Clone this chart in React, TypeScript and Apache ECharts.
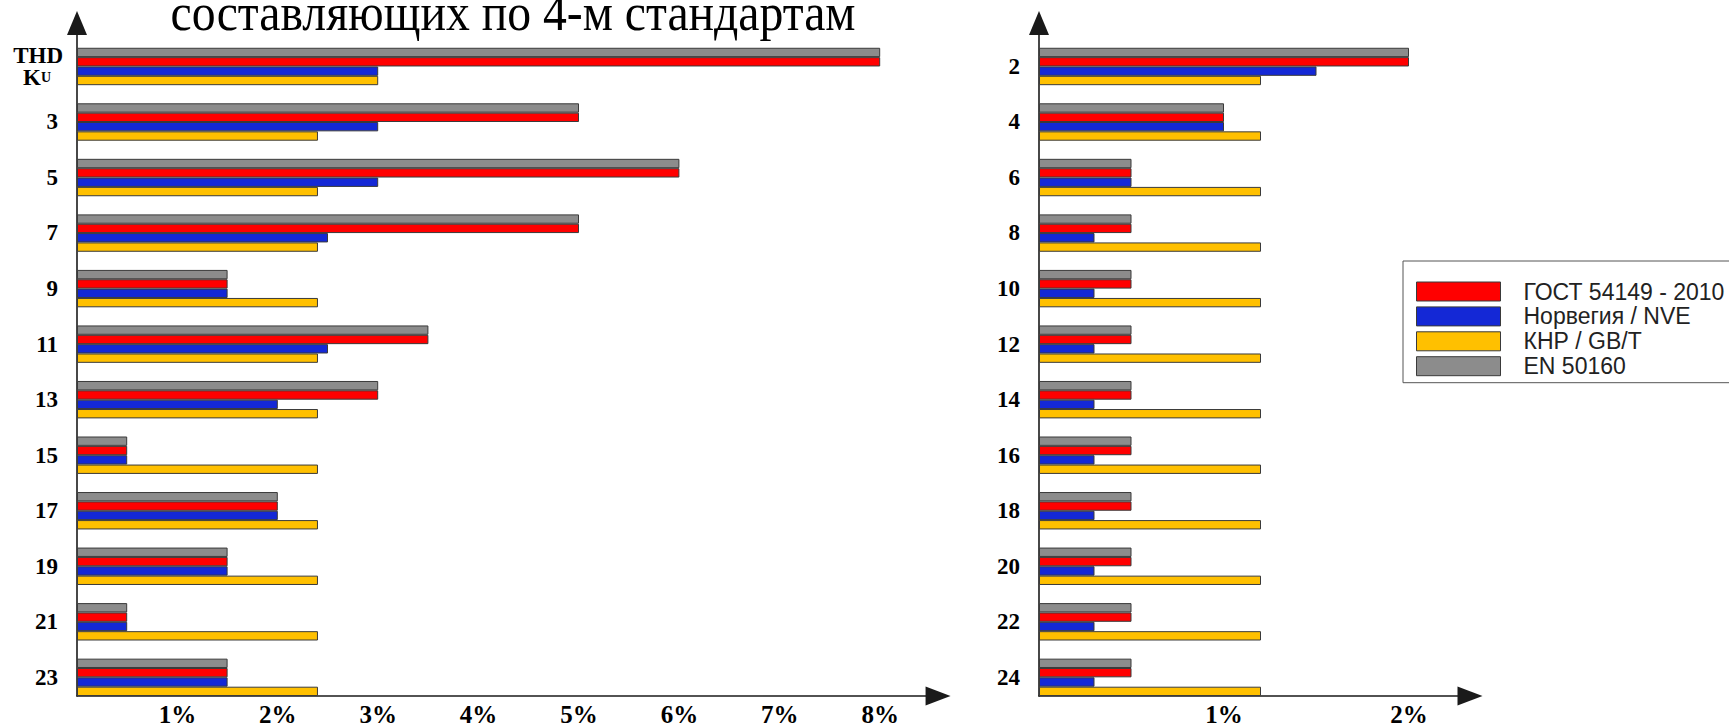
import React, { useEffect, useRef } from 'react';
import * as echarts from 'echarts';

// Harmonic orders, listed top to bottom as they appear on each panel
const oddOrders = ['THD', '3', '5', '7', '9', '11', '13', '15', '17', '19', '21', '23'];
const evenOrders = ['2', '4', '6', '8', '10', '12', '14', '16', '18', '20', '22', '24'];

const seriesNames = ['ГОСТ 54149 - 2010', 'Норвегия / NVE', 'КНР / GB/T', 'EN 50160'];

// Limits for odd harmonics and THD, %
const oddGost = [8, 5, 6, 5, 1.5, 3.5, 3, 0.5, 2, 1.5, 0.5, 1.5];
const oddNve = [3, 3, 3, 2.5, 1.5, 2.5, 2, 0.5, 2, 1.5, 0.5, 1.5];
const oddGbt = [3, 2.4, 2.4, 2.4, 2.4, 2.4, 2.4, 2.4, 2.4, 2.4, 2.4, 2.4];
const oddEn = [8, 5, 6, 5, 1.5, 3.5, 3, 0.5, 2, 1.5, 0.5, 1.5];

// Limits for even harmonics, %
const evenGost = [2, 1, 0.5, 0.5, 0.5, 0.5, 0.5, 0.5, 0.5, 0.5, 0.5, 0.5];
const evenNve = [1.5, 1, 0.5, 0.3, 0.3, 0.3, 0.3, 0.3, 0.3, 0.3, 0.3, 0.3];
const evenGbt = [1.2, 1.2, 1.2, 1.2, 1.2, 1.2, 1.2, 1.2, 1.2, 1.2, 1.2, 1.2];
const evenEn = [2, 1, 0.5, 0.5, 0.5, 0.5, 0.5, 0.5, 0.5, 0.5, 0.5, 0.5];

const titleText = 'составляющих по 4-м стандартам';

const COLORS = {
  gost: '#ff0000',
  nve: '#1428d6',
  gbt: '#ffc000',
  en: '#8c8c8c',
};

const AXIS_COLOR = '#1a1a1a';
const SERIF = '"Liberation Serif", "Times New Roman", serif';
const SANS = '"Liberation Sans", Arial, sans-serif';

const GRID_TOP = 29.6;
const GRID_HEIGHT = 667.4;
const BAND = GRID_HEIGHT / 12;
const BAR = 9.35;
const SPACER = BAND - 4 * BAR;

const rev = <T,>(a: T[]) => [...a].reverse();

function bar(name: string, data: number[], color: string, gi: number) {
  return {
    type: 'bar',
    name,
    data: rev(data),
    xAxisIndex: gi,
    yAxisIndex: gi,
    barWidth: BAR,
    barGap: '0%',
    silent: true,
    itemStyle: { color, borderColor: '#3a3a3a', borderWidth: 1 },
  };
}

// Empty column that keeps the free space of each band above its bar group
function spacer(gi: number) {
  return {
    type: 'bar',
    name: 'gap',
    data: [],
    xAxisIndex: gi,
    yAxisIndex: gi,
    barWidth: SPACER,
    barGap: '0%',
    silent: true,
    itemStyle: { color: 'rgba(0,0,0,0)', borderWidth: 0 },
  };
}

function xAxis(gi: number, max: number, arrowOffset: number) {
  return {
    type: 'value',
    gridIndex: gi,
    min: 0,
    max,
    interval: 1,
    splitLine: { show: false },
    axisTick: { show: false },
    axisLine: {
      show: true,
      symbol: ['none', 'triangle'],
      symbolSize: [19, 25],
      symbolOffset: [0, arrowOffset],
      lineStyle: { color: AXIS_COLOR, width: 1.6 },
    },
    axisLabel: {
      margin: 6,
      fontFamily: SERIF,
      fontWeight: 'bold',
      fontSize: 25,
      color: '#000',
      showMinLabel: false,
      showMaxLabel: false,
      formatter: (v: number) => (v > 0 && Number.isInteger(v) ? v + '%' : ''),
    },
  };
}

const labelFont = { fontFamily: SERIF, fontWeight: 'bold', color: '#000' };

function yAxis(gi: number, cats: string[]) {
  return {
    type: 'category',
    gridIndex: gi,
    data: rev(cats),
    axisTick: { show: false },
    axisLine: {
      show: true,
      symbol: ['none', 'triangle'],
      symbolSize: [20, 24],
      symbolOffset: [0, 6.6],
      lineStyle: { color: AXIS_COLOR, width: 1.6 },
    },
    axisLabel: {
      margin: 14,
      padding: [18, 0, 0, 0],
      ...labelFont,
      fontSize: 23,
      formatter: (v: string) => (v === 'THD' ? '{thd|THD}\n{k|K}{u|U}' : `{d|${v}}`),
      rich: {
        d: { ...labelFont, fontSize: 23, padding: [0, 5, 0, 0] },
        thd: { ...labelFont, fontSize: 23, lineHeight: 22 },
        k: { ...labelFont, fontSize: 23, lineHeight: 22 },
        u: { ...labelFont, fontSize: 14, lineHeight: 22, padding: [0, 12, 0, 0] },
      },
    },
  };
}

export default function App() {
  const ref = useRef<HTMLDivElement>(null);

  useEffect(() => {
    if (!ref.current) return;
    const chart = echarts.init(ref.current, undefined, { renderer: 'svg' });

    const option = {
      animation: false,
      backgroundColor: '#ffffff',
      grid: [
        { left: 77, top: GRID_TOP, width: 8.6 * 100.4, height: GRID_HEIGHT },
        { left: 1039, top: GRID_TOP, width: 2.3 * 185, height: GRID_HEIGHT },
      ],
      xAxis: [xAxis(0, 8.6, -2.4), xAxis(1, 2.3, 5.5)],
      yAxis: [yAxis(0, oddOrders), yAxis(1, evenOrders)],
      legend: {
        data: seriesNames,
        orient: 'vertical',
        left: 1403,
        top: 261,
        itemWidth: 84,
        itemHeight: 19,
        itemGap: 1.9,
        icon: 'rect',
        selectedMode: false,
        padding: [19, 60, 5, 13],
        borderColor: '#555',
        borderWidth: 1,
        itemStyle: { borderColor: '#3a3a3a', borderWidth: 1 },
        textStyle: {
          fontFamily: SANS,
          fontSize: 23,
          lineHeight: 20,
          color: '#222',
          padding: [0, 0, 0, 18],
        },
      },
      graphic: [
        {
          type: 'text',
          x: 513,
          y: 12.5,
          scaleX: 0.9,
          style: {
            text: titleText,
            font: `53px ${SERIF}`,
            fill: '#000',
            align: 'center',
            verticalAlign: 'middle',
          },
        },
      ],
      series: [
        spacer(0),
        bar(seriesNames[3], oddEn, COLORS.en, 0),
        bar(seriesNames[0], oddGost, COLORS.gost, 0),
        bar(seriesNames[1], oddNve, COLORS.nve, 0),
        bar(seriesNames[2], oddGbt, COLORS.gbt, 0),
        spacer(1),
        bar(seriesNames[3], evenEn, COLORS.en, 1),
        bar(seriesNames[0], evenGost, COLORS.gost, 1),
        bar(seriesNames[1], evenNve, COLORS.nve, 1),
        bar(seriesNames[2], evenGbt, COLORS.gbt, 1),
      ],
    };

    chart.setOption(option as any);
    return () => chart.dispose();
  }, []);

  return (
    <div
      ref={ref}
      style={{ position: 'absolute', left: 0, top: 0, width: 1729, height: 727, background: '#fff' }}
    />
  );
}
